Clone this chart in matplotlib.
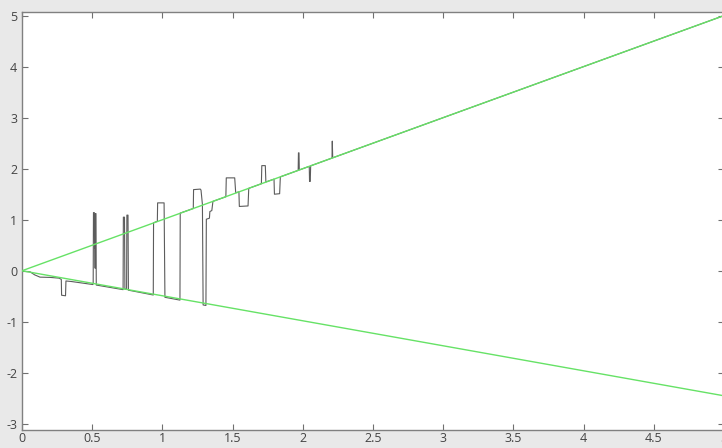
import matplotlib
matplotlib.use("Agg")
import matplotlib.pyplot as plt

# Green reference lines
green_x = [0.0, 5.0]
upper_y = [0.0, 5.0]
lower_y = [0.0, -2.45]

# Black response curve
black_x = [0.0, 0.057, 0.09, 0.128, 0.20, 0.265, 0.28, 0.282, 0.31, 0.313, 0.35, 0.505,
           0.507, 0.509, 0.515, 0.517, 0.519, 0.521, 0.523, 0.527, 0.529,
           0.72, 0.722, 0.73, 0.733, 0.745, 0.747, 0.755, 0.758,
           0.935, 0.937, 0.964, 0.966, 1.012, 1.018,
           1.125, 1.127, 1.22, 1.222, 1.27, 1.275, 1.285, 1.29, 1.31, 1.313, 1.335, 1.338, 1.352, 1.36,
           1.452, 1.455, 1.515, 1.522, 1.545, 1.548, 1.61, 1.615,
           1.705, 1.708, 1.733, 1.737, 1.795, 1.798, 1.835, 1.84,
           1.967, 1.969, 1.973, 1.975, 2.046, 2.048, 2.053, 2.056,
           2.208, 2.21, 2.213, 5.0]
black_y = [-0.01, -0.02, -0.08, -0.125, -0.13, -0.145, -0.17, -0.48, -0.49, -0.2, -0.21, -0.27,
           -0.25, 1.14, 1.14, 0.45, 0.78, 0.05, 1.12, 1.12, -0.28,
           -0.37, 1.05, 1.05, -0.36, -0.36, 1.09, 1.09, -0.38,
           -0.475, 0.94, 0.97, 1.33, 1.33, -0.52,
           -0.575, 1.13, 1.22, 1.59, 1.6, 1.58, 1.3, -0.67, -0.68, 1.01, 1.03, 1.16, 1.18, 1.36,
           1.45, 1.82, 1.82, 1.53, 1.545, 1.26, 1.27, 1.615,
           1.705, 2.06, 2.06, 1.74, 1.795, 1.5, 1.51, 1.84,
           1.967, 2.31, 2.31, 1.975, 2.046, 1.75, 1.75, 2.056,
           2.208, 2.54, 2.213, 5.0]

xticks = [0, 0.5, 1, 1.5, 2, 2.5, 3, 3.5, 4, 4.5, 5]
xticklabels = ["0", "0.5", "1", "1.5", "2", "2.5", "3", "3.5", "4", "4.5", "5"]
yticks = [-3, -2, -1, 0, 1, 2, 3, 4, 5]
yticklabels = ["-3", "-2", "-1", "0", "1", "2", "3", "4", "5"]

plt.rcParams['font.family'] = ['Open Sans', 'DejaVu Sans']

fig = plt.figure(figsize=(7.22, 4.48), dpi=100, facecolor='#e9e9e9')
ax = fig.add_axes([22/722, 18/448, 702/722, 418/448])
ax.set_facecolor('white')

ax.plot(black_x, black_y, color='#5c5c5c', lw=0.8, zorder=2)
ax.plot(green_x, upper_y, color='#66e266', lw=1.0, zorder=3)
ax.plot(green_x, lower_y, color='#66e266', lw=1.0, zorder=3)

ax.set_xlim(0, 5)
ax.set_ylim(-3.12, 5.07)
ax.set_xticks(xticks)
ax.set_xticklabels(xticklabels)
ax.set_yticks(yticks)
ax.set_yticklabels(yticklabels)

ax.tick_params(direction='in', length=4, width=0.8, color='#707070',
               labelcolor='#444444', labelsize=9, top=True, right=True)
ax.tick_params(axis='x', pad=1.5)
ax.tick_params(axis='y', pad=3.5)
for s in ax.spines.values():
    s.set_color('#808080')
    s.set_linewidth(1.0)

fig.savefig('out.png', dpi=100, facecolor=fig.get_facecolor())
